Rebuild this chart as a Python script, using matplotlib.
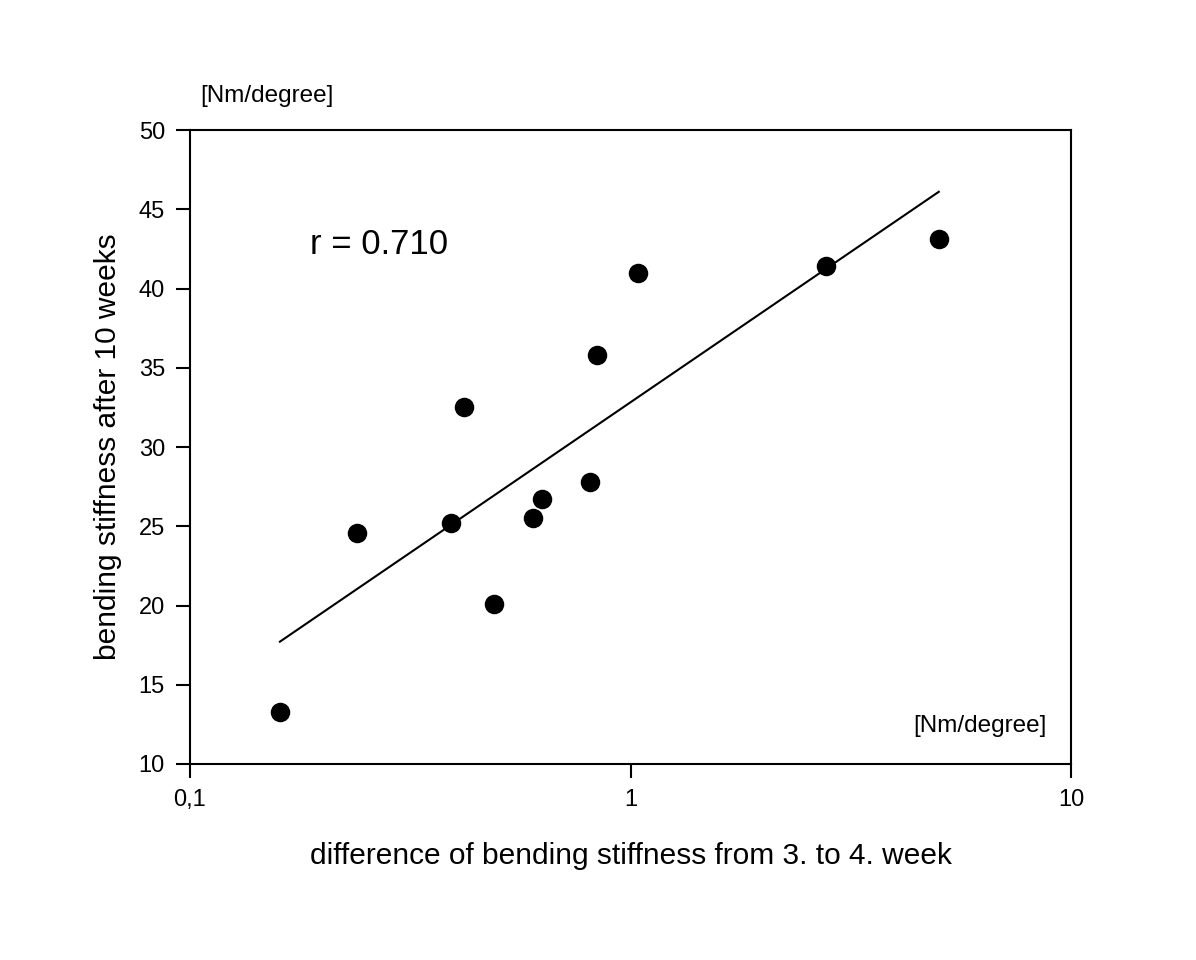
import numpy as np
import matplotlib
matplotlib.use("Agg")
import matplotlib.pyplot as plt
from matplotlib.ticker import FixedLocator, NullLocator

plt.rcParams['font.family'] = ['Liberation Sans', 'DejaVu Sans']

diff_stiffness = [0.160, 0.239, 0.391, 0.419, 0.490, 0.601, 0.630, 0.809, 0.839, 1.040, 2.78, 5.01]
stiffness_10w = [13.3, 24.6, 25.2, 32.5, 20.1, 25.5, 26.7, 27.8, 35.8, 41.0, 41.4, 43.1]
x_ticks = [0.1, 1, 10]
x_tick_labels = ["0,1", "1", "10"]
y_ticks = [10, 15, 20, 25, 30, 35, 40, 45, 50]

x = np.array(diff_stiffness)
y = np.array(stiffness_10w)
b, a = np.polyfit(np.log10(x), y, 1)
xl = np.array([x.min(), x.max()])
yl = a + b * np.log10(xl)

fig = plt.figure(figsize=(11.96, 9.6), dpi=100)
ax = fig.add_axes([190/1196, 196/960, (1071-190)/1196, (764-130)/960])
ax.set_xscale('log')
ax.set_xlim(0.1, 10)
ax.set_ylim(10, 50)
ax.plot(xl, yl, color='black', lw=1.5)
ax.scatter(x, y, s=170, color='black', zorder=3, clip_on=False)

ax.xaxis.set_major_locator(FixedLocator(x_ticks))
ax.xaxis.set_minor_locator(NullLocator())
ax.set_xticklabels(x_tick_labels)
ax.set_yticks(y_ticks)
ax.tick_params(direction='out', length=10, width=1.5, labelsize=17, pad=8)
for s in ax.spines.values():
    s.set_linewidth(1.5)

ax.set_xlabel("difference of bending stiffness from 3. to 4. week", fontsize=21.5, labelpad=22)
ax.set_ylabel("bending stiffness after 10 weeks", fontsize=21.5, labelpad=12)
ax.text(0.136, 0.82, "r = 0.710", transform=ax.transAxes, fontsize=25, va='center')
ax.text(0.972, 0.06, "[Nm/degree]", transform=ax.transAxes, fontsize=17.5, ha='right', va='center')
fig.text(200/1196, 1-96/960, "[Nm/degree]", fontsize=17.5, ha='left', va='center')

fig.savefig("out.png", dpi=100, facecolor='white')
